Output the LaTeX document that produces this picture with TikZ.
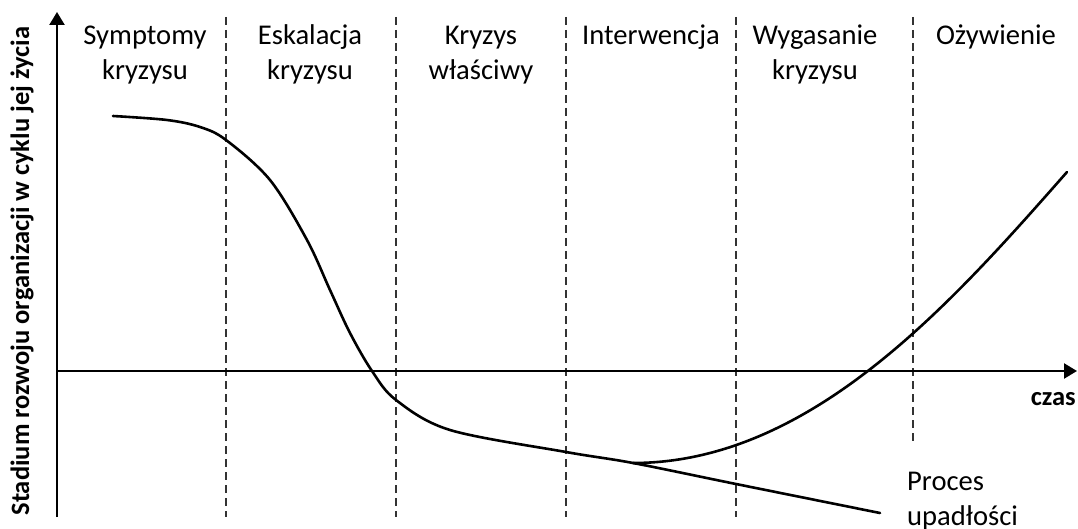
\documentclass[tikz,border=0pt]{standalone}
\usepackage{fontspec}
\setmainfont{Carlito}
\usetikzlibrary{arrows.meta}
\begin{document}
\begin{tikzpicture}[x=1pt,y=-1pt,
  axis/.style={line width=2.4pt,-{Triangle[length=13pt,width=15pt]}},
  sep/.style={line width=1.1pt,dash pattern=on 8pt off 5pt,black!80},
  curve/.style={line width=2.6pt,line join=round,line cap=round},
  phase/.style={font=\fontsize{28.6}{35}\selectfont,align=center,anchor=base,inner sep=0pt},
  lab/.style={font=\fontsize{26.5}{30}\selectfont\bfseries,inner sep=0pt}]
\useasboundingbox (0,0) rectangle (1078,529);
% separators
\foreach \xx in {226,396,566,736} \draw[sep] (\xx,17) -- (\xx,517);
\draw[sep] (913,17) -- (913,443);
% axes
\coordinate (o) at (57,371);
\coordinate (ybot) at (57,517);
\coordinate (ytop) at (57,12);
\coordinate (xend) at (1077,371);
\draw[axis] (ybot) -- (ytop);
\draw[axis] (o) -- (xend);
% curves
\coordinate (j) at (633,463);
\coordinate (e1) at (880,513);
\coordinate (e2) at (1067,172);
\draw[curve] plot[smooth,tension=0.55] coordinates {(113,116) (167,120) (200,127) (226,140) (270,180) (307,240) (330,290) (350,333) (372,371) (396,400) (450,430) (566,452) (633,463) (736,484) (880,513)};
\draw[curve] (j) .. controls (810,463) and (950,305) .. (e2);
% labels
\node[phase] (p1) at (145,80) {Symptomy\\kryzysu};
\node[phase] (p2) at (310,80) {Eskalacja\\kryzysu};
\node[phase] (p3) at (481,80) {Kryzys\\właściwy};
\node[phase] (p4) at (651,45) {Interwencja};
\node[phase] (p5) at (815,80) {Wygasanie\\kryzysu};
\node[phase] (p6) at (996,45) {Ożywienie};
\node[lab,rotate=90] (ylab) at (22,271) {Stadium rozwoju organizacji w cyklu jej życia};
\node[lab,anchor=base east] (czas) at (1076,405) {czas};
\node[phase,anchor=base west,align=left] (proc) at (907,525) {Proces\\upadłości};
\end{tikzpicture}
\end{document}
